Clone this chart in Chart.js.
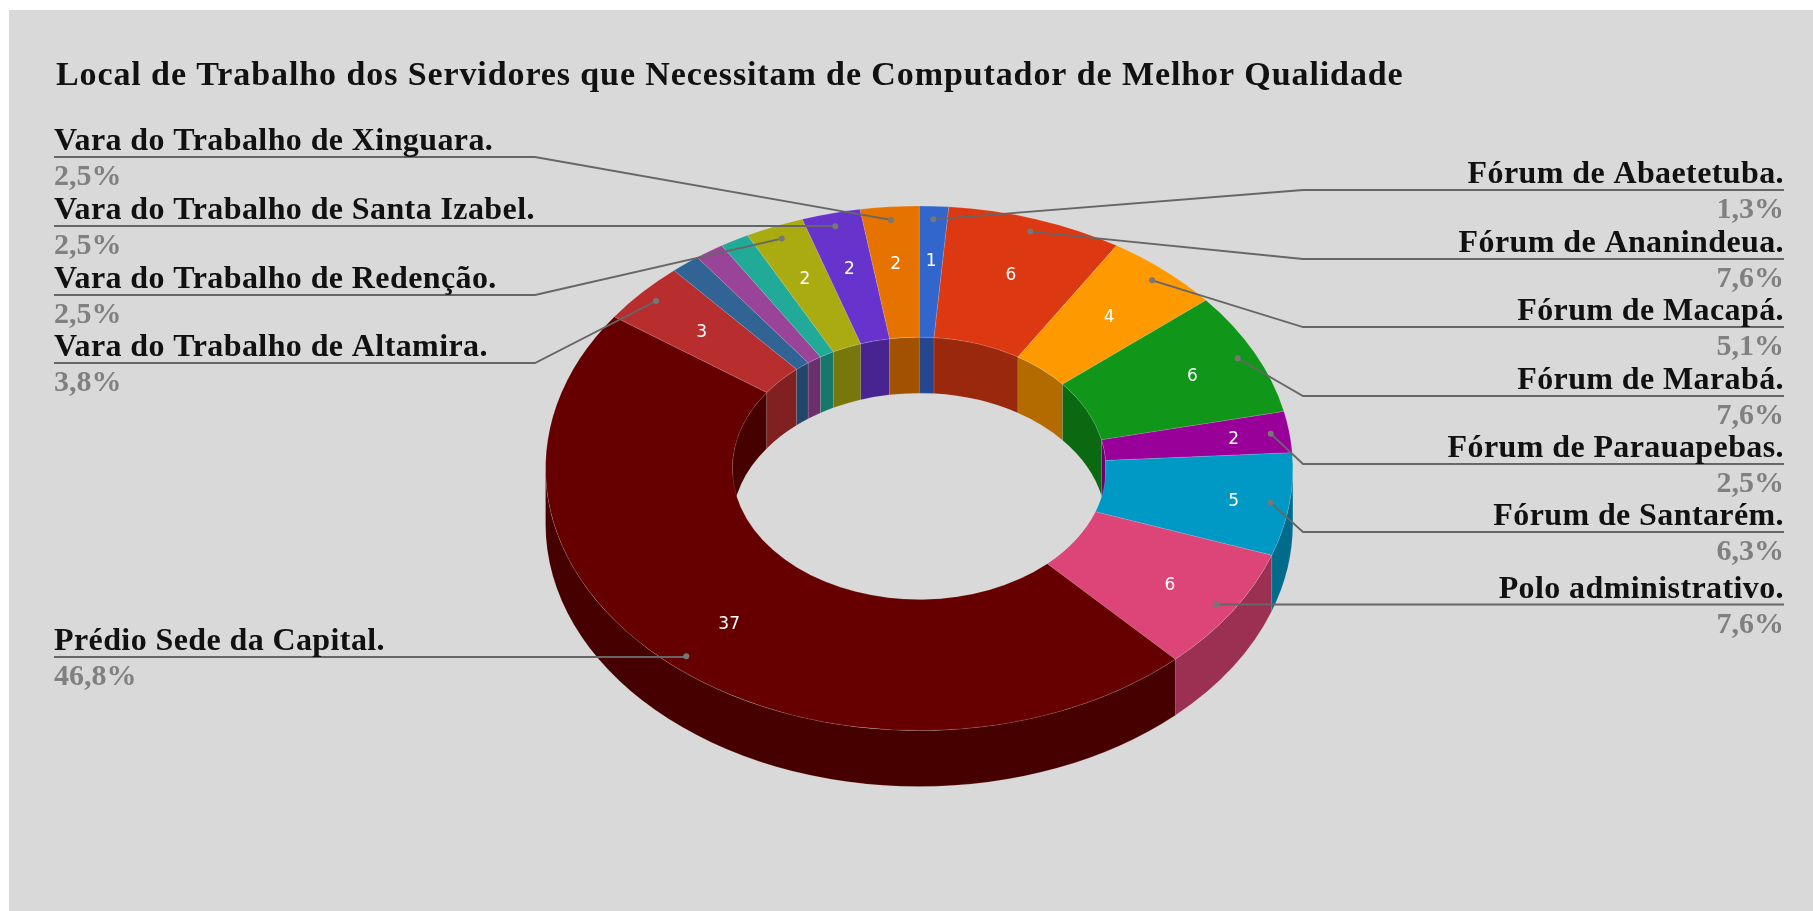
<!DOCTYPE html>
<html>
<head>
<title>Local de Trabalho</title>
<style>
html, body { margin: 0; padding: 0; background: #fff; overflow: hidden; }
body { padding: 10px 0 0 9px; }
canvas { display: block; }
</style>
</head>
<body>
<script src="https://cdn.jsdelivr.net/npm/chart.js"></script>
<canvas id="myChart" width="1804" height="901"></canvas>
<script>
// blank names = slices that carry no callout in the picture
const titleText = 'Local de Trabalho dos Servidores que Necessitam de Computador de Melhor Qualidade'
const places = [
    'Fórum de Abaetetuba.', 'Fórum de Ananindeua.', 'Fórum de Macapá.', 'Fórum de Marabá.',
    'Fórum de Parauapebas.', 'Fórum de Santarém.', 'Polo administrativo.', 'Prédio Sede da Capital.',
    'Vara do Trabalho de Altamira.', '', '', '',
    'Vara do Trabalho de Redenção.', 'Vara do Trabalho de Santa Izabel.', 'Vara do Trabalho de Xinguara.'
]
const servers = [1, 6, 4, 6, 2, 5, 6, 37, 3, 1, 1, 1, 2, 2, 2]
const sliceColors = [
    '#3366cc', '#dc3912', '#ff9900', '#109618', '#990099', '#0099c6', '#dd4477', '#660000',
    '#b82e2e', '#316395', '#994499', '#22aa99', '#aaaa11', '#6633cc', '#e67300'
]

// callout layout, one per slice: rule height and where the rule bends
const ruleY = [180, 249, 317, 386, 454, 522, 594.5, 647, 353, null, null, null, 285, 216, 147]
const bendX = [1294, 1294, 1294, 1294, 1294, 1294, null, null, 526, null, null, null, 526, null, 526]
const leftEdge = 45
const rightEdge = 1775
// how far out the number sits on each slice, as a share of the radius
const numberReach = [0.8, 0.785, 0.775, 0.815, 0.85, 0.85, 0.8, 0.775, 0.785, 0, 0, 0, 0.79, 0.79, 0.79]

const flatten = 0.702
const depth = 56

function dark(hex) {
    const n = parseInt(hex.slice(1), 16)
    const c = [n >> 16, (n >> 8) & 255, n & 255].map(v => Math.round(v * 0.7))
    return `rgb(${c[0]},${c[1]},${c[2]})`
}

function wallPiece(ctx, x, y, r, a, b, color) {
    if (b <= a) return
    ctx.beginPath()
    ctx.ellipse(x, y, r, r * flatten, 0, a, b)
    ctx.ellipse(x, y + depth, r, r * flatten, 0, b, a, true)
    ctx.closePath()
    ctx.fillStyle = color
    ctx.fill()
    ctx.lineWidth = 0.6
    ctx.strokeStyle = 'rgba(255,255,255,0.18)'
    ctx.stroke()
}

const tilt = {
    id: 'tilt',
    beforeDraw(chart) {
        // the title is drawn by the library, this widens it to the picture's face
        chart.ctx.letterSpacing = '0.9px'
    },
    beforeDatasetsDraw(chart) {
        const ctx = chart.ctx
        ctx.letterSpacing = '0px'
        const arcs = chart.getDatasetMeta(0).data
        arcs.forEach((arc, i) => {
            const c = dark(sliceColors[i])
            const s = arc.startAngle, e = arc.endAngle
            // hole wall, far side only
            wallPiece(ctx, arc.x, arc.y, arc.innerRadius, Math.max(s, -Math.PI / 2), Math.min(e, 0), c)
            wallPiece(ctx, arc.x, arc.y, arc.innerRadius, Math.max(s, Math.PI), Math.min(e, Math.PI * 1.5), c)
        })
        arcs.forEach((arc, i) => {
            // outer wall, near side only
            wallPiece(ctx, arc.x, arc.y, arc.outerRadius, Math.max(arc.startAngle, 0), Math.min(arc.endAngle, Math.PI), dark(sliceColors[i]))
        })
        const a0 = arcs[0]
        ctx.save()
        ctx.translate(a0.x, a0.y)
        ctx.scale(1, flatten)
        ctx.translate(-a0.x, -a0.y)
    },
    afterDatasetsDraw(chart) {
        const ctx = chart.ctx
        ctx.restore()
        const total = servers.reduce((a, b) => a + b, 0)
        const arcs = chart.getDatasetMeta(0).data

        function onSlice(arc, f) {
            const mid = (arc.startAngle + arc.endAngle) / 2
            return {
                x: arc.x + Math.cos(mid) * arc.outerRadius * f,
                y: arc.y + Math.sin(mid) * arc.outerRadius * f * flatten
            }
        }

        arcs.forEach((arc, i) => {
            if (!places[i]) return
            const p = onSlice(arc, numberReach[i])
            ctx.fillStyle = '#fff'
            ctx.font = '17px "DejaVu Sans"'
            ctx.textAlign = 'center'
            ctx.textBaseline = 'middle'
            ctx.fillText(servers[i], p.x, p.y + 2.5)
        })

        arcs.forEach((arc, i) => {
            if (!places[i]) return
            const dot = onSlice(arc, 0.95)
            const right = i < 7
            const y = ruleY[i]
            const edge = right ? rightEdge : leftEdge

            ctx.strokeStyle = '#666'
            ctx.lineWidth = 1.8
            ctx.beginPath()
            ctx.moveTo(edge, y)
            if (bendX[i] !== null) ctx.lineTo(bendX[i], y)
            ctx.lineTo(dot.x, bendX[i] !== null ? dot.y : y)
            ctx.stroke()

            ctx.fillStyle = '#777'
            ctx.beginPath()
            ctx.arc(dot.x, dot.y, 3, 0, Math.PI * 2)
            ctx.fill()

            ctx.textAlign = right ? 'right' : 'left'
            ctx.textBaseline = 'alphabetic'
            ctx.font = 'bold 32px "Liberation Serif"'
            ctx.letterSpacing = '0.4px'
            ctx.fillStyle = '#111'
            ctx.fillText(places[i], edge, y - 7)
            ctx.font = 'bold 30px "Liberation Serif"'
            ctx.letterSpacing = '0px'
            ctx.fillStyle = '#808080'
            ctx.fillText((servers[i] / total * 100).toFixed(1).replace('.', ',') + '%', edge, y + 28)
        })
    }
}

const myChart = new Chart(document.getElementById('myChart').getContext('2d'), {
    type: 'doughnut',
    data: {
        labels: places,
        datasets: [{
            data: servers,
            backgroundColor: sliceColors,
            borderWidth: 0.7,
            borderColor: 'rgba(255,255,255,0.22)'
        }]
    },
    options: {
        responsive: false,
        animation: false,
        cutout: '50%',
        layout: { padding: { left: 47, right: 30.6, top: 0, bottom: 68.7 } },
        plugins: {
            legend: { display: false },
            tooltip: { enabled: false },
            title: {
                display: true,
                text: titleText,
                align: 'start',
                color: '#111',
                font: { family: '"Liberation Serif"', size: 34, weight: 'bold', lineHeight: 1 },
                padding: { top: 49.5, bottom: 0.8 }
            }
        }
    },
    plugins: [{
        id: 'pageBackground',
        beforeDraw(chart) {
            chart.ctx.fillStyle = '#d9d9d9'
            chart.ctx.fillRect(0, 0, chart.width, chart.height)
        }
    }, tilt]
})
</script>
</body>
</html>
